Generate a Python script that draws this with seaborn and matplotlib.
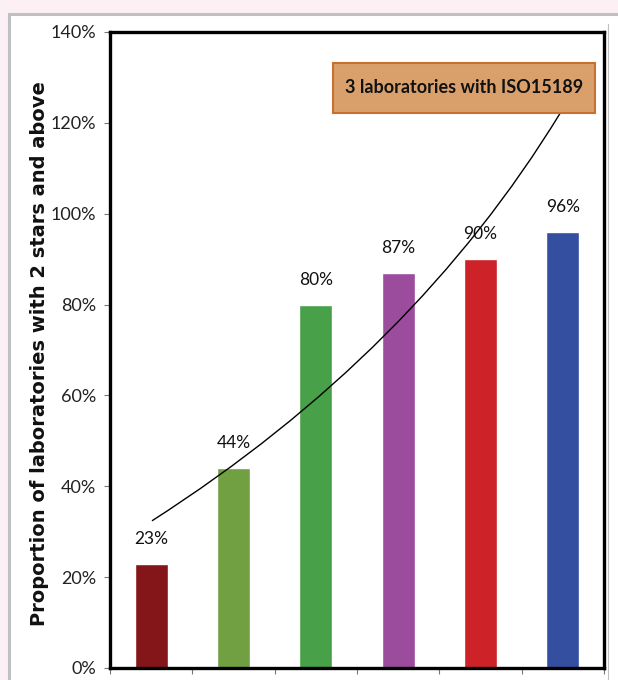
import matplotlib
matplotlib.use("Agg")
import matplotlib.pyplot as plt
from matplotlib.patches import Rectangle, PathPatch
from matplotlib.path import Path
import seaborn as sns
import pandas as pd

# Assessment rounds and the share of laboratories rated 2 stars or more
rounds = ["Round 1", "Round 2", "Round 3", "Round 4", "Round 5", "Round 6"]
share = [0.23, 0.44, 0.80, 0.87, 0.90, 0.96]
bar_colors = ["#84161A", "#70A042", "#48A048", "#9B4C9C", "#CC2228", "#344EA0"]
y_ticks = [0.0, 0.2, 0.4, 0.6, 0.8, 1.0, 1.2, 1.4]

callout_text = "3 laboratories with ISO15189"
# call-out box corners (category index, share)
callout_x = (2.21, 5.39)
callout_y = (1.222, 1.332)
# trend curve: start, control and end points (category index, share)
trend_start = (0.01, 0.324)
trend_ctrl = (3.19, 0.693)
trend_end = (4.97, 1.222)

df = pd.DataFrame({"round": rounds, "share": share})

sns.set_theme(style="white")
plt.rcParams["font.family"] = ["Lato", "DejaVu Sans"]

fig = plt.figure(figsize=(6.18, 6.8), dpi=100)
fig.patch.set_facecolor("#FDF0F4")

# white chart area with a grey frame
W, H = 618, 680
frame = Rectangle((9 / W, -0.01), 1, 1.01 - 14 / H, transform=fig.transFigure,
                  facecolor="white", edgecolor="#BFC0C4", linewidth=2.2, zorder=-10)
fig.add_artist(frame)
fig.add_artist(plt.Line2D([608 / W, 608 / W], [0, 1 - 24 / H], transform=fig.transFigure,
                          color="#BFBFBF", linewidth=0.8, zorder=-5))

ax = fig.add_axes([110 / W, 12 / H, (604 - 110) / W, (668 - 32) / H])
ax.set_facecolor("white")

sns.barplot(data=df, x="round", y="share", hue="round", palette=bar_colors,
            legend=False, width=0.4, saturation=1, ax=ax)

ax.set_xlim(-0.5, len(rounds) - 0.5)
ax.set_ylim(0, 1.4)
ax.set_yticks(y_ticks)
ax.set_yticklabels([f"{int(round(v * 100))}%" for v in y_ticks],
                   fontsize=13, color="#222222")
ax.set_xticks([i - 0.5 for i in range(len(rounds) + 1)])
ax.set_xticklabels([])
ax.set_xlabel("")
ax.set_ylabel("Proportion of laboratories with 2 stars and above",
              fontsize=14, fontweight="bold", color="#111111",
              family=["DejaVu Sans"])
ax.yaxis.set_label_coords(-0.124, 0.495)

ax.tick_params(axis="both", which="both", direction="out", length=4, width=0.8,
               color="#777777", left=True, bottom=True, pad=6)

for s in ax.spines.values():
    s.set_visible(True)
    s.set_color("black")
    s.set_linewidth(2.4)

# value labels above the bars
for i, v in enumerate(share):
    ax.annotate(f"{int(round(v * 100))}%", (i, v), xytext=(0, 12),
                textcoords="offset points", ha="center", va="bottom",
                fontsize=12.5, color="#111111")

# curved trend line leading to the call-out
curve = Path([trend_start, trend_ctrl, trend_end],
             [Path.MOVETO, Path.CURVE3, Path.CURVE3])
ax.add_patch(PathPatch(curve, facecolor="none", edgecolor="black", linewidth=1.0,
                       zorder=5))

ax.add_patch(Rectangle((callout_x[0], callout_y[0]), callout_x[1] - callout_x[0],
                       callout_y[1] - callout_y[0], facecolor="#D9A06C",
                       edgecolor="#C8702E", linewidth=1.5, zorder=6))
ax.text(sum(callout_x) / 2, sum(callout_y) / 2, callout_text, ha="center",
        va="center", fontsize=13, fontweight="bold", color="#111111", zorder=7)

fig.savefig("out.png", dpi=100, facecolor=fig.get_facecolor())
